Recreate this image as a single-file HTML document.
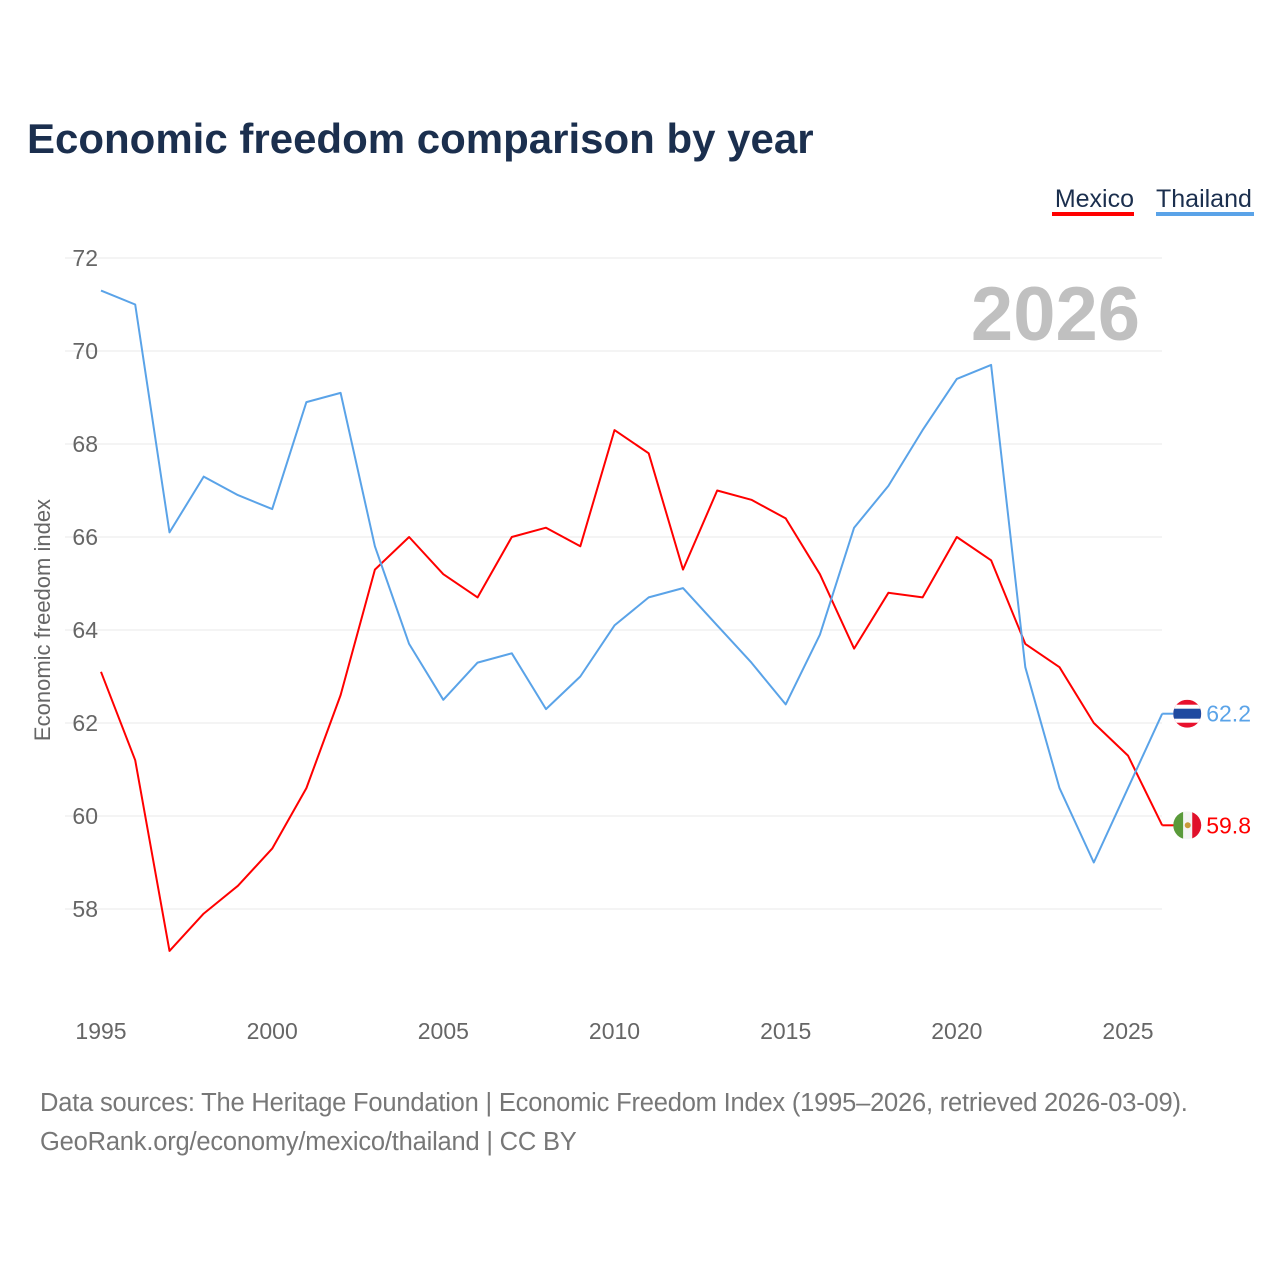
<!DOCTYPE html>
<html><head><meta charset="utf-8"><style>
body{margin:0;background:#fff;width:1280px;height:1280px;overflow:hidden;font-family:"Liberation Sans",sans-serif;}
</style></head><body>
<svg width="1280" height="1280" id="chart">
<defs>
<clipPath id="cth"><circle cx="0" cy="0" r="14"/></clipPath>
</defs>
<text x="27" y="153" font-size="42" font-weight="bold" fill="#1b2f4e">Economic freedom comparison by year</text>
<g>
<text x="1134" y="207" font-size="25" fill="#1b2f4e" text-anchor="end">Mexico</text>
<rect x="1052" y="212" width="82" height="4" fill="#ff0000"/>
<text x="1156" y="207" font-size="25" fill="#1b2f4e">Thailand</text>
<rect x="1156" y="212" width="98" height="4" fill="#5aa3e8"/>
</g>
<text x="1140" y="340" font-size="76" font-weight="bold" fill="#c0c0c0" text-anchor="end">2026</text>
<text transform="translate(50,620) rotate(-90)" font-size="22" fill="#666" text-anchor="middle">Economic freedom index</text>
<g id="grid"></g><g id="lines"></g>
<text x="40" y="1111" font-size="25.5" fill="#777" letter-spacing="-0.2">Data sources: The Heritage Foundation | Economic Freedom Index (1995–2026, retrieved 2026-03-09).</text>
<text x="40" y="1150" font-size="25.5" fill="#777" letter-spacing="-0.2">GeoRank.org/economy/mexico/thailand | CC BY</text>
</svg>
<script>
const years=[1995,1996,1997,1998,1999,2000,2001,2002,2003,2004,2005,2006,2007,2008,2009,2010,2011,2012,2013,2014,2015,2016,2017,2018,2019,2020,2021,2022,2023,2024,2025,2026];
const mexico=[63.1,61.2,57.1,57.9,58.5,59.3,60.6,62.6,65.3,66.0,65.2,64.7,66.0,66.2,65.8,68.3,67.8,65.3,67.0,66.8,66.4,65.2,63.6,64.8,64.7,66.0,65.5,63.7,63.2,62.0,61.3,59.8];
const thailand=[71.3,71.0,66.1,67.3,66.9,66.6,68.9,69.1,65.8,63.7,62.5,63.3,63.5,62.3,63.0,64.1,64.7,64.9,64.1,63.3,62.4,63.9,66.2,67.1,68.3,69.4,69.7,63.2,60.6,59.0,60.6,62.2];
const yTicks=[58,60,62,64,66,68,70,72];
const xTicks=[1995,2000,2005,2010,2015,2020,2025];
const NS="http://www.w3.org/2000/svg";
const xs=y=>101+(y-1995)*(1128-101)/30;
const ys=v=>258+(72-v)*(909-258)/14;
function mk(t,a,p){const e=document.createElementNS(NS,t);for(const k in a)e.setAttribute(k,a[k]);p.appendChild(e);return e;}
const grid=document.getElementById('grid'),lines=document.getElementById('lines');
yTicks.forEach(v=>{
 const l=mk('line',{x1:65,x2:1162,y1:ys(v),y2:ys(v),stroke:'#e8e8e8','stroke-width':1},grid);
 
 
 const t=mk('text',{x:98,y:ys(v)+8,'font-size':23,fill:'#666','text-anchor':'end'},grid);t.textContent=v;
 
 
});
xTicks.forEach(y=>{
 const t=mk('text',{x:xs(y),y:1039,'font-size':23,fill:'#666','text-anchor':'middle'},grid);t.textContent=y;
 
 
});
function flag(cx,cy,kind,name){
 const g=mk('g',{transform:'translate('+cx+','+cy+')','clip-path':'url(#cth)'},lines);
 
 
 if(kind==='th'){
  mk('rect',{x:-14,y:-14,width:28,height:28,fill:'#e8112d'},g);
  mk('rect',{x:-14,y:-9,width:28,height:18,fill:'#fff'},g);
  mk('rect',{x:-14,y:-5,width:28,height:10,fill:'#1e4aa0'},g);
 }else{
  mk('rect',{x:-14,y:-14,width:10,height:28,fill:'#5a9a3a'},g);
  mk('rect',{x:-4,y:-14,width:9,height:28,fill:'#f4f4f4'},g);
  mk('rect',{x:5,y:-14,width:10,height:28,fill:'#e0102a'},g);
  mk('circle',{cx:0.5,cy:0,r:3,fill:'#c89a3a'},g);
 }
}
function series(vals,color,name,kind){
 const d=vals.map((v,i)=>(i?'L':'M')+xs(years[i]).toFixed(1)+','+ys(v).toFixed(1)).join('');
 const p=mk('path',{d:d,fill:'none',stroke:color,'stroke-width':2,'stroke-linejoin':'round'},lines);
 
 
 const last=vals[vals.length-1],lx=xs(years[years.length-1]),ly=ys(last);
 const c=mk('line',{x1:lx,x2:lx+12,y1:ly,y2:ly,stroke:color,'stroke-width':2},lines);
 
 
 flag(lx+25,ly,kind,name);
 const t=mk('text',{x:lx+44,y:ly+8,'font-size':23,fill:color},lines);t.textContent=last.toFixed(1);
 
 
}
series(mexico,'#ff0000','mexico','mx');
series(thailand,'#5aa3e8','thailand','th');
</script>
</body></html>
